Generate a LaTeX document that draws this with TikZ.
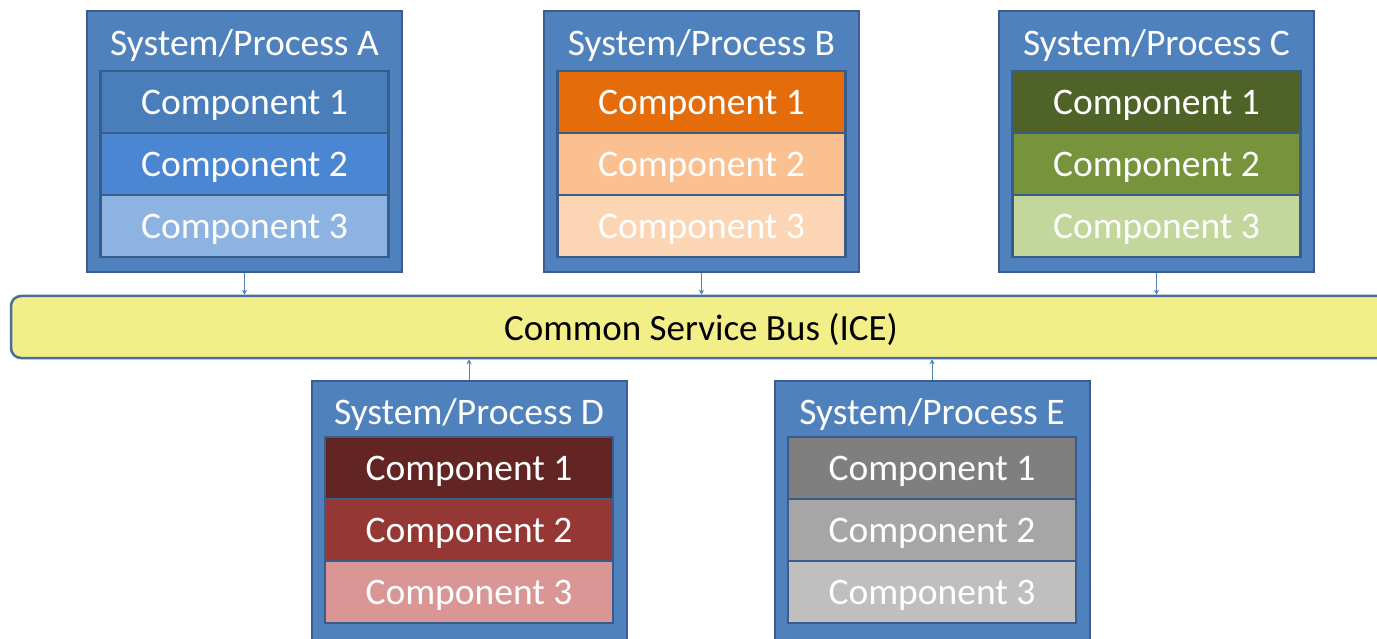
\documentclass[tikz,border=0pt]{standalone}
\usepackage{fontspec}
\setmainfont{Carlito}
\usetikzlibrary{arrows.meta}
\definecolor{outerfill}{HTML}{4F81BD}
\definecolor{outerdraw}{HTML}{3A5F8E}
\definecolor{innerdraw}{HTML}{385D8A}
\definecolor{busfill}{HTML}{F2EF89}
\definecolor{busdraw}{HTML}{4A6E9C}
\definecolor{aone}{HTML}{4A7EBB}
\definecolor{atwo}{HTML}{4A86D2}
\definecolor{athree}{HTML}{8DB3E2}
\definecolor{bone}{HTML}{E46C0A}
\definecolor{btwo}{HTML}{FAC090}
\definecolor{bthree}{HTML}{FCD5B5}
\definecolor{cone}{HTML}{4F6228}
\definecolor{ctwo}{HTML}{77933C}
\definecolor{cthree}{HTML}{C3D69B}
\definecolor{done}{HTML}{632523}
\definecolor{dtwo}{HTML}{953735}
\definecolor{dthree}{HTML}{D99694}
\definecolor{eone}{HTML}{7F7F7F}
\definecolor{etwo}{HTML}{A6A6A6}
\definecolor{ethree}{HTML}{BFBFBF}
\tikzset{
  sysbox/.style={draw=outerdraw, fill=outerfill, line width=2pt, minimum width=315pt, inner sep=0pt},
  titletext/.style={text=white, font=\fontsize{37.5}{42}\selectfont, inner sep=0pt},
  compbox/.style={draw=innerdraw, line width=2.5pt, minimum width=288pt, minimum height=62pt, inner sep=0pt, text depth=0pt, text=white, font=\fontsize{37.5}{42}\selectfont},
  bus/.style={draw=busdraw, fill=busfill, line width=2.5pt, rounded corners=10pt, minimum width=1380pt, minimum height=62pt, inner sep=0pt, text depth=0pt, font=\fontsize{37}{42}\selectfont},
  link/.style={draw=outerfill, line width=1pt, -{Stealth[length=5pt,width=5pt]}}
}
\begin{document}
\begin{tikzpicture}[x=1pt,y=-1pt]
\useasboundingbox (0,0) rectangle (1377,639);
% bus
\node[bus] (bus) at (701,327) {Common Service Bus (ICE)};
% top systems
\foreach \n/\cx/\lt/\one/\two/\three in {A/244.5/A/aone/atwo/athree, B/701.5/B/bone/btwo/bthree, C/1156.5/C/cone/ctwo/cthree}{
  \node[sysbox, minimum height=261pt] (\n) at (\cx,141.5) {};
  \node[titletext] (\n t) at (\cx,46) {System/Process \lt};
  \node[compbox, fill=\one] (\n1) at (\cx,102) {Component 1};
  \node[compbox, fill=\two] (\n2) at (\cx,164) {Component 2};
  \node[compbox, fill=\three] (\n3) at (\cx,226) {Component 3};
  \draw[link] (\n.south) -- (\n.south |- bus.north);
}
% bottom systems
\foreach \n/\cx/\lt/\one/\two/\three in {D/469/D/done/dtwo/dthree, E/932/E/eone/etwo/ethree}{
  \node[sysbox, minimum height=270pt] (\n) at (\cx,516) {};
  \node[titletext] (\n t) at (\cx,415) {System/Process \lt};
  \node[compbox, fill=\one] (\n1) at (\cx,468) {Component 1};
  \node[compbox, fill=\two] (\n2) at (\cx,530) {Component 2};
  \node[compbox, fill=\three] (\n3) at (\cx,592) {Component 3};
  \draw[link] (\n.north) -- (\n.north |- bus.south);
}
\end{tikzpicture}
\end{document}
